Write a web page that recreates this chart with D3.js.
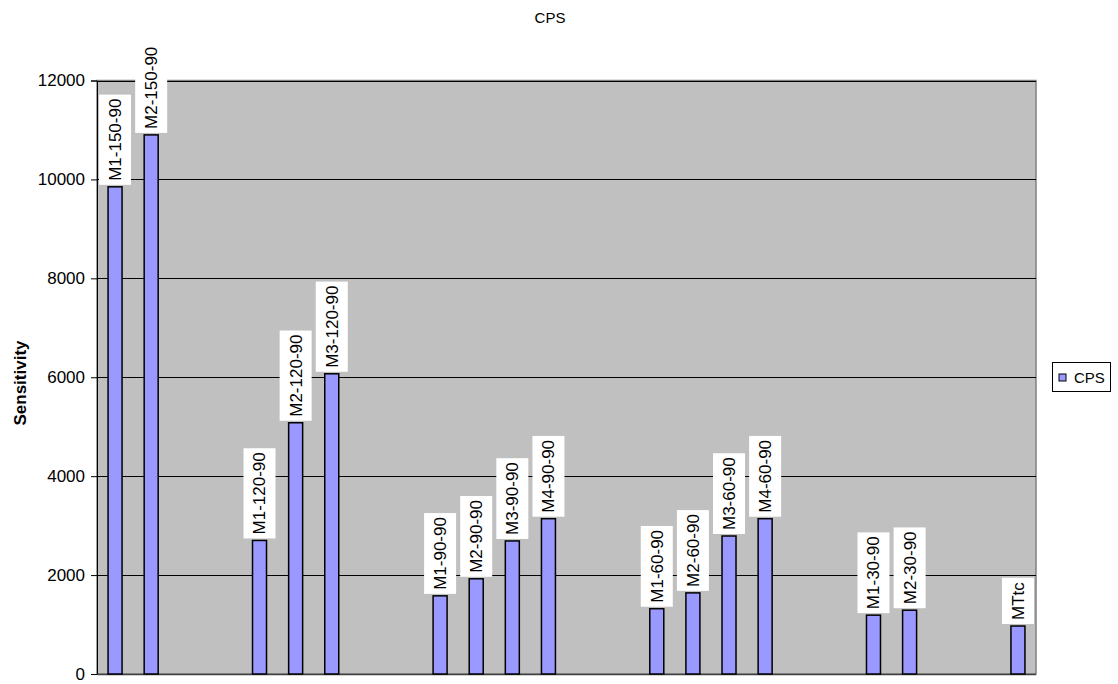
<!DOCTYPE html>
<html><head><meta charset="utf-8">
<script src="https://cdn.jsdelivr.net/npm/d3@7/dist/d3.min.js"></script>
<style>body{margin:0;background:#fff;font-family:"Liberation Sans",Arial,sans-serif}</style>
</head><body><svg id="c" width="1118" height="684"></svg>
<script>
const categories = ["M1-150-90","M2-150-90","","","M1-120-90","M2-120-90","M3-120-90","","",
  "M1-90-90","M2-90-90","M3-90-90","M4-90-90","","",
  "M1-60-90","M2-60-90","M3-60-90","M4-60-90","","",
  "M1-30-90","M2-30-90","","","MTtc"];
const values = [9850,10900,null,null,2700,5080,6070,null,null,
  1580,1925,2690,3140,null,null,
  1320,1640,2790,3140,null,null,
  1190,1290,null,null,970];
const yTicks = [0,2000,4000,6000,8000,10000,12000];
const seriesName = "CPS";
const chartTitle = "CPS";
const yTitle = "Sensitivity";

const svg = d3.select("#c");
const L = 97, R = 1036, T = 80.5, B = 674;
const slots = categories.map((c,i)=>"s"+i);
const x = d3.scaleBand().domain(slots).range([L,R]).paddingInner(0).paddingOuter(0);
const y = d3.scaleLinear().domain([0,12000]).range([B,T]);

svg.append("rect").attr("x",L).attr("y",T).attr("width",R-L).attr("height",B-T)
  .attr("fill","#c0c0c0").attr("stroke","#808080").attr("stroke-width",1.5);

// gridlines
svg.append("g").selectAll("line").data(yTicks.filter(d=>d>0)).join("line")
  .attr("x1",L).attr("x2",R).attr("y1",d=>Math.round(y(d))+0.5).attr("y2",d=>Math.round(y(d))+0.5)
  .attr("stroke","#000").attr("stroke-width",1);

// y axis
const ya = svg.append("g").attr("transform",`translate(${L},0)`)
  .call(d3.axisLeft(y).tickValues(yTicks).tickSize(6).tickPadding(6).tickFormat(d3.format("d")));
ya.select(".domain").attr("stroke","#000");
ya.selectAll("text").attr("font-size","17px").attr("font-family","Liberation Sans, Arial, sans-serif").attr("fill","#000");
// x axis line
svg.append("line").attr("x1",L).attr("x2",R).attr("y1",B+0.5).attr("y2",B+0.5).attr("stroke","#404040").attr("stroke-width",1.5);

const data = categories.map((c,i)=>({c, v: values[i], s: slots[i]})).filter(d=>d.v!=null);
const bw = 14;
svg.append("g").selectAll("rect").data(data).join("rect")
  .attr("x",d=>x(d.s)+x.bandwidth()/2-bw/2).attr("width",bw)
  .attr("y",d=>y(d.v)).attr("height",d=>y(0)-y(d.v))
  .attr("fill","#9999ff").attr("stroke","#000").attr("stroke-width",1.5);

// labels
const lg = svg.append("g").selectAll("g").data(data).join("g")
  .attr("transform",d=>`translate(${x(d.s)+x.bandwidth()/2},${y(d.v)-2}) rotate(-90)`);
lg.each(function(d){
  const g = d3.select(this);
  const t = g.append("text").attr("x",4).attr("y",0).attr("dy","0.35em")
    .attr("font-size","17px").attr("fill","#000").text(d.c);
  const bb = t.node().getBBox();
  g.insert("rect","text").attr("x",0).attr("y",-16).attr("width",bb.width+8).attr("height",32).attr("fill","#fff");
});

// title
svg.append("text").attr("x",550).attr("y",23).attr("text-anchor","middle").attr("font-size","15px").text(chartTitle);
// y title
svg.append("text").attr("transform","translate(26,383) rotate(-90)").attr("text-anchor","middle")
  .attr("font-size","17px").attr("font-weight","bold").text(yTitle);

// legend
const leg = svg.append("g");
leg.append("rect").attr("x",1052.5).attr("y",362.5).attr("width",58).attr("height",29).attr("fill","#fff").attr("stroke","#000");
leg.append("rect").attr("x",1059).attr("y",374).attr("width",7).attr("height",7).attr("fill","#9999ff").attr("stroke","#000");
leg.append("text").attr("x",1074).attr("y",383).attr("font-size","15px").text(seriesName);
</script></body></html>
